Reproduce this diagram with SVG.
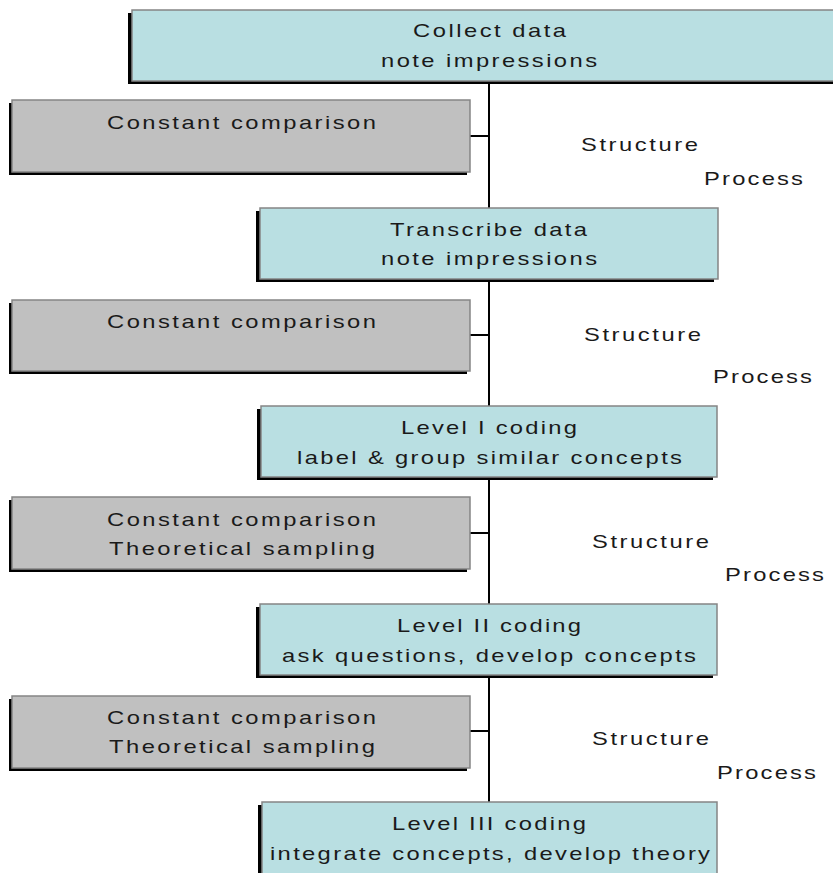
<svg xmlns="http://www.w3.org/2000/svg" width="833" height="873" viewBox="0 0 833 873">
  <style>
    text { font-family: "Liberation Sans", Arial, sans-serif; font-size: 19px; fill: #1a1a1a; }
    .c { text-anchor: middle; }
    .shadow { fill: #000; }
    .step { fill: #b9dfe2; stroke: #858585; stroke-width: 1.5; }
    .method { fill: #c0c0c0; stroke: #858585; stroke-width: 1.5; }
    .wire { stroke: #000; stroke-width: 2; fill: none; }
  </style>
  <rect width="833" height="873" fill="#fff"/>

  <!-- connectors: spine and side branches -->
  <g id="connectors">
    <line class="wire" x1="489" y1="81" x2="489" y2="802"/>
    <line class="wire" x1="470" y1="136" x2="489" y2="136"/>
    <line class="wire" x1="470" y1="335" x2="489" y2="335"/>
    <line class="wire" x1="470" y1="533" x2="489" y2="533"/>
    <line class="wire" x1="470" y1="731" x2="489" y2="731"/>
  </g>

  <!-- main steps (type is set wide: scaled 1.25 horizontally) -->
  <g id="collect">
    <rect class="shadow" x="128" y="13" width="720" height="71"/>
    <rect class="step" x="132" y="10" width="715" height="71"/>
    <text class="c" transform="translate(489.5 37) scale(1.25 1)" textLength="122.4" lengthAdjust="spacing">Collect data</text>
    <text class="c" transform="translate(489 67) scale(1.25 1)" textLength="172.8" lengthAdjust="spacing">note impressions</text>
  </g>

  <g id="transcribe">
    <rect class="shadow" x="256" y="211" width="458" height="71"/>
    <rect class="step" x="260" y="208" width="458" height="71"/>
    <text class="c" transform="translate(488.5 236) scale(1.25 1)" textLength="157.6" lengthAdjust="spacing">Transcribe data</text>
    <text class="c" transform="translate(489 265) scale(1.25 1)" textLength="172.8" lengthAdjust="spacing">note impressions</text>
  </g>

  <g id="level1">
    <rect class="shadow" x="257" y="409" width="456" height="71"/>
    <rect class="step" x="261" y="406" width="456" height="71"/>
    <text class="c" transform="translate(489 434) scale(1.25 1)" textLength="140.8" lengthAdjust="spacing">Level I coding</text>
    <text class="c" transform="translate(489.5 464) scale(1.25 1)" textLength="308" lengthAdjust="spacing">label &amp; group similar concepts</text>
  </g>

  <g id="level2">
    <rect class="shadow" x="256" y="607" width="457" height="71"/>
    <rect class="step" x="260" y="604" width="457" height="71"/>
    <text class="c" transform="translate(489 632) scale(1.25 1)" textLength="147.2" lengthAdjust="spacing">Level II coding</text>
    <text class="c" transform="translate(489 662) scale(1.25 1)" textLength="331.2" lengthAdjust="spacing">ask questions, develop concepts</text>
  </g>

  <g id="level3">
    <rect class="shadow" x="258" y="805" width="455" height="80"/>
    <rect class="step" x="262" y="802" width="455" height="80"/>
    <text class="c" transform="translate(489 830) scale(1.25 1)" textLength="155.2" lengthAdjust="spacing">Level III coding</text>
    <text class="c" transform="translate(490 860) scale(1.25 1)" textLength="352" lengthAdjust="spacing">integrate concepts, develop theory</text>
  </g>

  <!-- side methods -->
  <g id="method1">
    <rect class="shadow" x="9" y="103" width="458" height="72"/>
    <rect class="method" x="12" y="100" width="458" height="72"/>
    <text class="c" transform="translate(241.5 129) scale(1.25 1)" textLength="215.2" lengthAdjust="spacing">Constant comparison</text>
  </g>

  <g id="method2">
    <rect class="shadow" x="9" y="303" width="458" height="71"/>
    <rect class="method" x="12" y="300" width="458" height="71"/>
    <text class="c" transform="translate(241.5 328) scale(1.25 1)" textLength="215.2" lengthAdjust="spacing">Constant comparison</text>
  </g>

  <g id="method3">
    <rect class="shadow" x="9" y="500" width="458" height="72"/>
    <rect class="method" x="12" y="497" width="458" height="72"/>
    <text class="c" transform="translate(241.5 526) scale(1.25 1)" textLength="215.2" lengthAdjust="spacing">Constant comparison</text>
    <text class="c" transform="translate(242 555) scale(1.25 1)" textLength="212.8" lengthAdjust="spacing">Theoretical sampling</text>
  </g>

  <g id="method4">
    <rect class="shadow" x="9" y="699" width="458" height="72"/>
    <rect class="method" x="12" y="696" width="458" height="72"/>
    <text class="c" transform="translate(241.5 724) scale(1.25 1)" textLength="215.2" lengthAdjust="spacing">Constant comparison</text>
    <text class="c" transform="translate(242 753) scale(1.25 1)" textLength="212.8" lengthAdjust="spacing">Theoretical sampling</text>
  </g>

  <!-- axis labels -->
  <g id="labels1">
    <text transform="translate(581 151) scale(1.25 1)" textLength="93.6" lengthAdjust="spacing">Structure</text>
    <text transform="translate(704 185) scale(1.25 1)" textLength="79.2" lengthAdjust="spacing">Process</text>
  </g>
  <g id="labels2">
    <text transform="translate(584 341) scale(1.25 1)" textLength="93.6" lengthAdjust="spacing">Structure</text>
    <text transform="translate(713 383) scale(1.25 1)" textLength="79.2" lengthAdjust="spacing">Process</text>
  </g>
  <g id="labels3">
    <text transform="translate(592 548) scale(1.25 1)" textLength="93.6" lengthAdjust="spacing">Structure</text>
    <text transform="translate(725 581) scale(1.25 1)" textLength="79.2" lengthAdjust="spacing">Process</text>
  </g>
  <g id="labels4">
    <text transform="translate(592 745) scale(1.25 1)" textLength="93.6" lengthAdjust="spacing">Structure</text>
    <text transform="translate(717 779) scale(1.25 1)" textLength="79.2" lengthAdjust="spacing">Process</text>
  </g>
</svg>
